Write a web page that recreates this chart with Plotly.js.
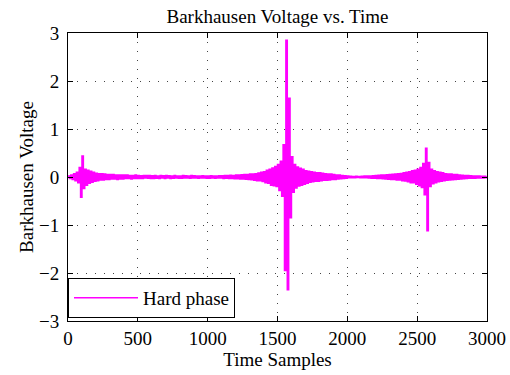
<!DOCTYPE html>
<html>
<head>
<meta charset="utf-8">
<script src="https://cdn.plot.ly/plotly-3.0.1.min.js"></script>
<style>html,body{margin:0;padding:0;background:#fff;}#chart{width:510px;height:375px;}</style>
</head>
<body>
<div id="chart"></div>
<script>
// Sample spacing of the hand-read values (time samples)
var sampleStep = 10;

// Barkhausen voltage, one value every 10 samples (0 .. 3000)
var voltage = [
  0.02, -0.03, 0.04, -0.05, 0.07, -0.08, 0.1, -0.12, 0.2, -0.42,
  0.44, -0.24, 0.16, -0.17, 0.14, -0.13, 0.12, -0.11, 0.1, -0.09,
  0.08, -0.08, 0.07, -0.06, 0.07, -0.06, 0.06, -0.05, 0.05, -0.05,
  0.05, -0.04, 0.05, -0.04, 0.04, -0.05, 0.04, -0.04, 0.04, -0.04,
  0.04, -0.03, 0.04, -0.03, 0.03, -0.04, 0.03, -0.03, 0.04, -0.03,
  0.03, -0.03, 0.025, -0.03, 0.03, -0.02, 0.03, -0.025, 0.03, -0.03,
  0.025, -0.03, 0.03, -0.025, 0.02, -0.03, 0.03, -0.02, 0.025, -0.03,
  0.03, -0.02, 0.025, -0.03, 0.02, -0.025, 0.03, -0.02, 0.02, -0.025,
  0.02, -0.025, 0.03, -0.02, 0.025, -0.02, 0.02, -0.025, 0.03, -0.02,
  0.025, -0.02, 0.02, -0.025, 0.02, -0.02, 0.025, -0.02, 0.02, -0.025,
  0.02, -0.025, 0.025, -0.02, 0.02, -0.025, 0.02, -0.02, 0.025, -0.02,
  0.025, -0.03, 0.03, -0.025, 0.03, -0.03, 0.035, -0.03, 0.03, -0.035,
  0.04, -0.035, 0.04, -0.04, 0.045, -0.04, 0.05, -0.045, 0.05, -0.05,
  0.06, -0.055, 0.065, -0.07, 0.07, -0.08, 0.085, -0.08, 0.1, -0.095,
  0.11, -0.12, 0.14, -0.13, 0.16, -0.17, 0.19, -0.18, 0.22, -0.2,
  0.26, -0.28, 0.33, -0.4, 0.67, -1.95, 2.85, -2.35, 1.64, -0.85,
  0.42, -0.32, 0.26, -0.23, 0.21, -0.19, 0.18, -0.17, 0.16, -0.15,
  0.13, -0.13, 0.12, -0.11, 0.11, -0.1, 0.1, -0.09, 0.09, -0.09,
  0.09, -0.08, 0.08, -0.07, 0.07, -0.07, 0.06, -0.06, 0.06, -0.05,
  0.05, -0.05, 0.04, -0.04, 0.04, -0.035, 0.03, -0.03, 0.025, -0.025,
  0.02, -0.015, 0.015, -0.015, 0.01, -0.015, 0.015, -0.01, 0.01, -0.015,
  0.015, -0.015, 0.02, -0.015, 0.02, -0.02, 0.02, -0.025, 0.025, -0.025,
  0.03, -0.03, 0.035, -0.03, 0.04, -0.035, 0.04, -0.04, 0.045, -0.045,
  0.05, -0.05, 0.055, -0.05, 0.06, -0.065, 0.07, -0.065, 0.075, -0.08,
  0.09, -0.085, 0.1, -0.1, 0.11, -0.12, 0.13, -0.12, 0.14, -0.15,
  0.16, -0.18, 0.2, -0.22, 0.28, -0.37, 0.6, -1.12, 0.3, -0.2,
  0.16, -0.14, 0.13, -0.12, 0.11, -0.1, 0.1, -0.09, 0.09, -0.08,
  0.07, -0.07, 0.065, -0.06, 0.06, -0.055, 0.05, -0.05, 0.05, -0.045,
  0.04, -0.04, 0.035, -0.035, 0.03, -0.03, 0.03, -0.025, 0.025, -0.025,
  0.02, -0.025, 0.02, -0.02, 0.02, -0.02, 0.015, -0.02, 0.015, -0.015,
  0.015
];

var xTicks = [0, 500, 1000, 1500, 2000, 2500, 3000];
var yTicks = [-3, -2, -1, 0, 1, 2, 3];
var seriesName = 'Hard phase';

var samples = [];
for (var i = 0; i < voltage.length; i++) samples.push(i * sampleStep);

var font = {family: '"Liberation Serif", "Times New Roman", serif', size: 19, color: '#000'};

var axisCommon = {
  showline: true, linecolor: '#000', linewidth: 1, mirror: 'ticks',
  ticks: 'inside', ticklen: 5, tickcolor: '#000', tickwidth: 1,
  showgrid: true, gridcolor: '#444', gridwidth: 1, griddash: '1px,8px',
  zeroline: false, tickfont: font
};

var trace = {
  x: samples, y: voltage, type: 'scatter', mode: 'lines',
  name: seriesName, line: {color: '#ff00ff', width: 1.5, shape: 'hv'}
};

var layout = {
  width: 510, height: 375,
  margin: {l: 68, r: 23, t: 33, b: 54},
  paper_bgcolor: '#fff', plot_bgcolor: '#fff',
  font: font,
  title: {text: 'Barkhausen Voltage vs. Time', font: font, x: 0.5, xref: 'paper', xanchor: 'center',
          y: 1, yref: 'paper', yanchor: 'bottom', pad: {b: 10}},
  xaxis: Object.assign({}, axisCommon, {
    range: [0, 3000], tickvals: xTicks, ticktext: xTicks.map(String),
    title: {text: 'Time Samples', font: font, standoff: 0},
    ticklabelstandoff: 0
  }),
  yaxis: Object.assign({}, axisCommon, {
    range: [-3, 3], tickvals: yTicks,
    title: {text: 'Barkhausen Voltage', font: font, standoff: 0},
    ticklabelstandoff: 4
  }),
  showlegend: true,
  legend: {
    x: 0, xanchor: 'left', y: 0.15, yanchor: 'top',
    bordercolor: '#000', borderwidth: 1, bgcolor: '#fff',
    font: font, itemwidth: 64
  }
};

Plotly.newPlot('chart', [trace], layout, {displayModeBar: false, staticPlot: true});
</script>
</body>
</html>
